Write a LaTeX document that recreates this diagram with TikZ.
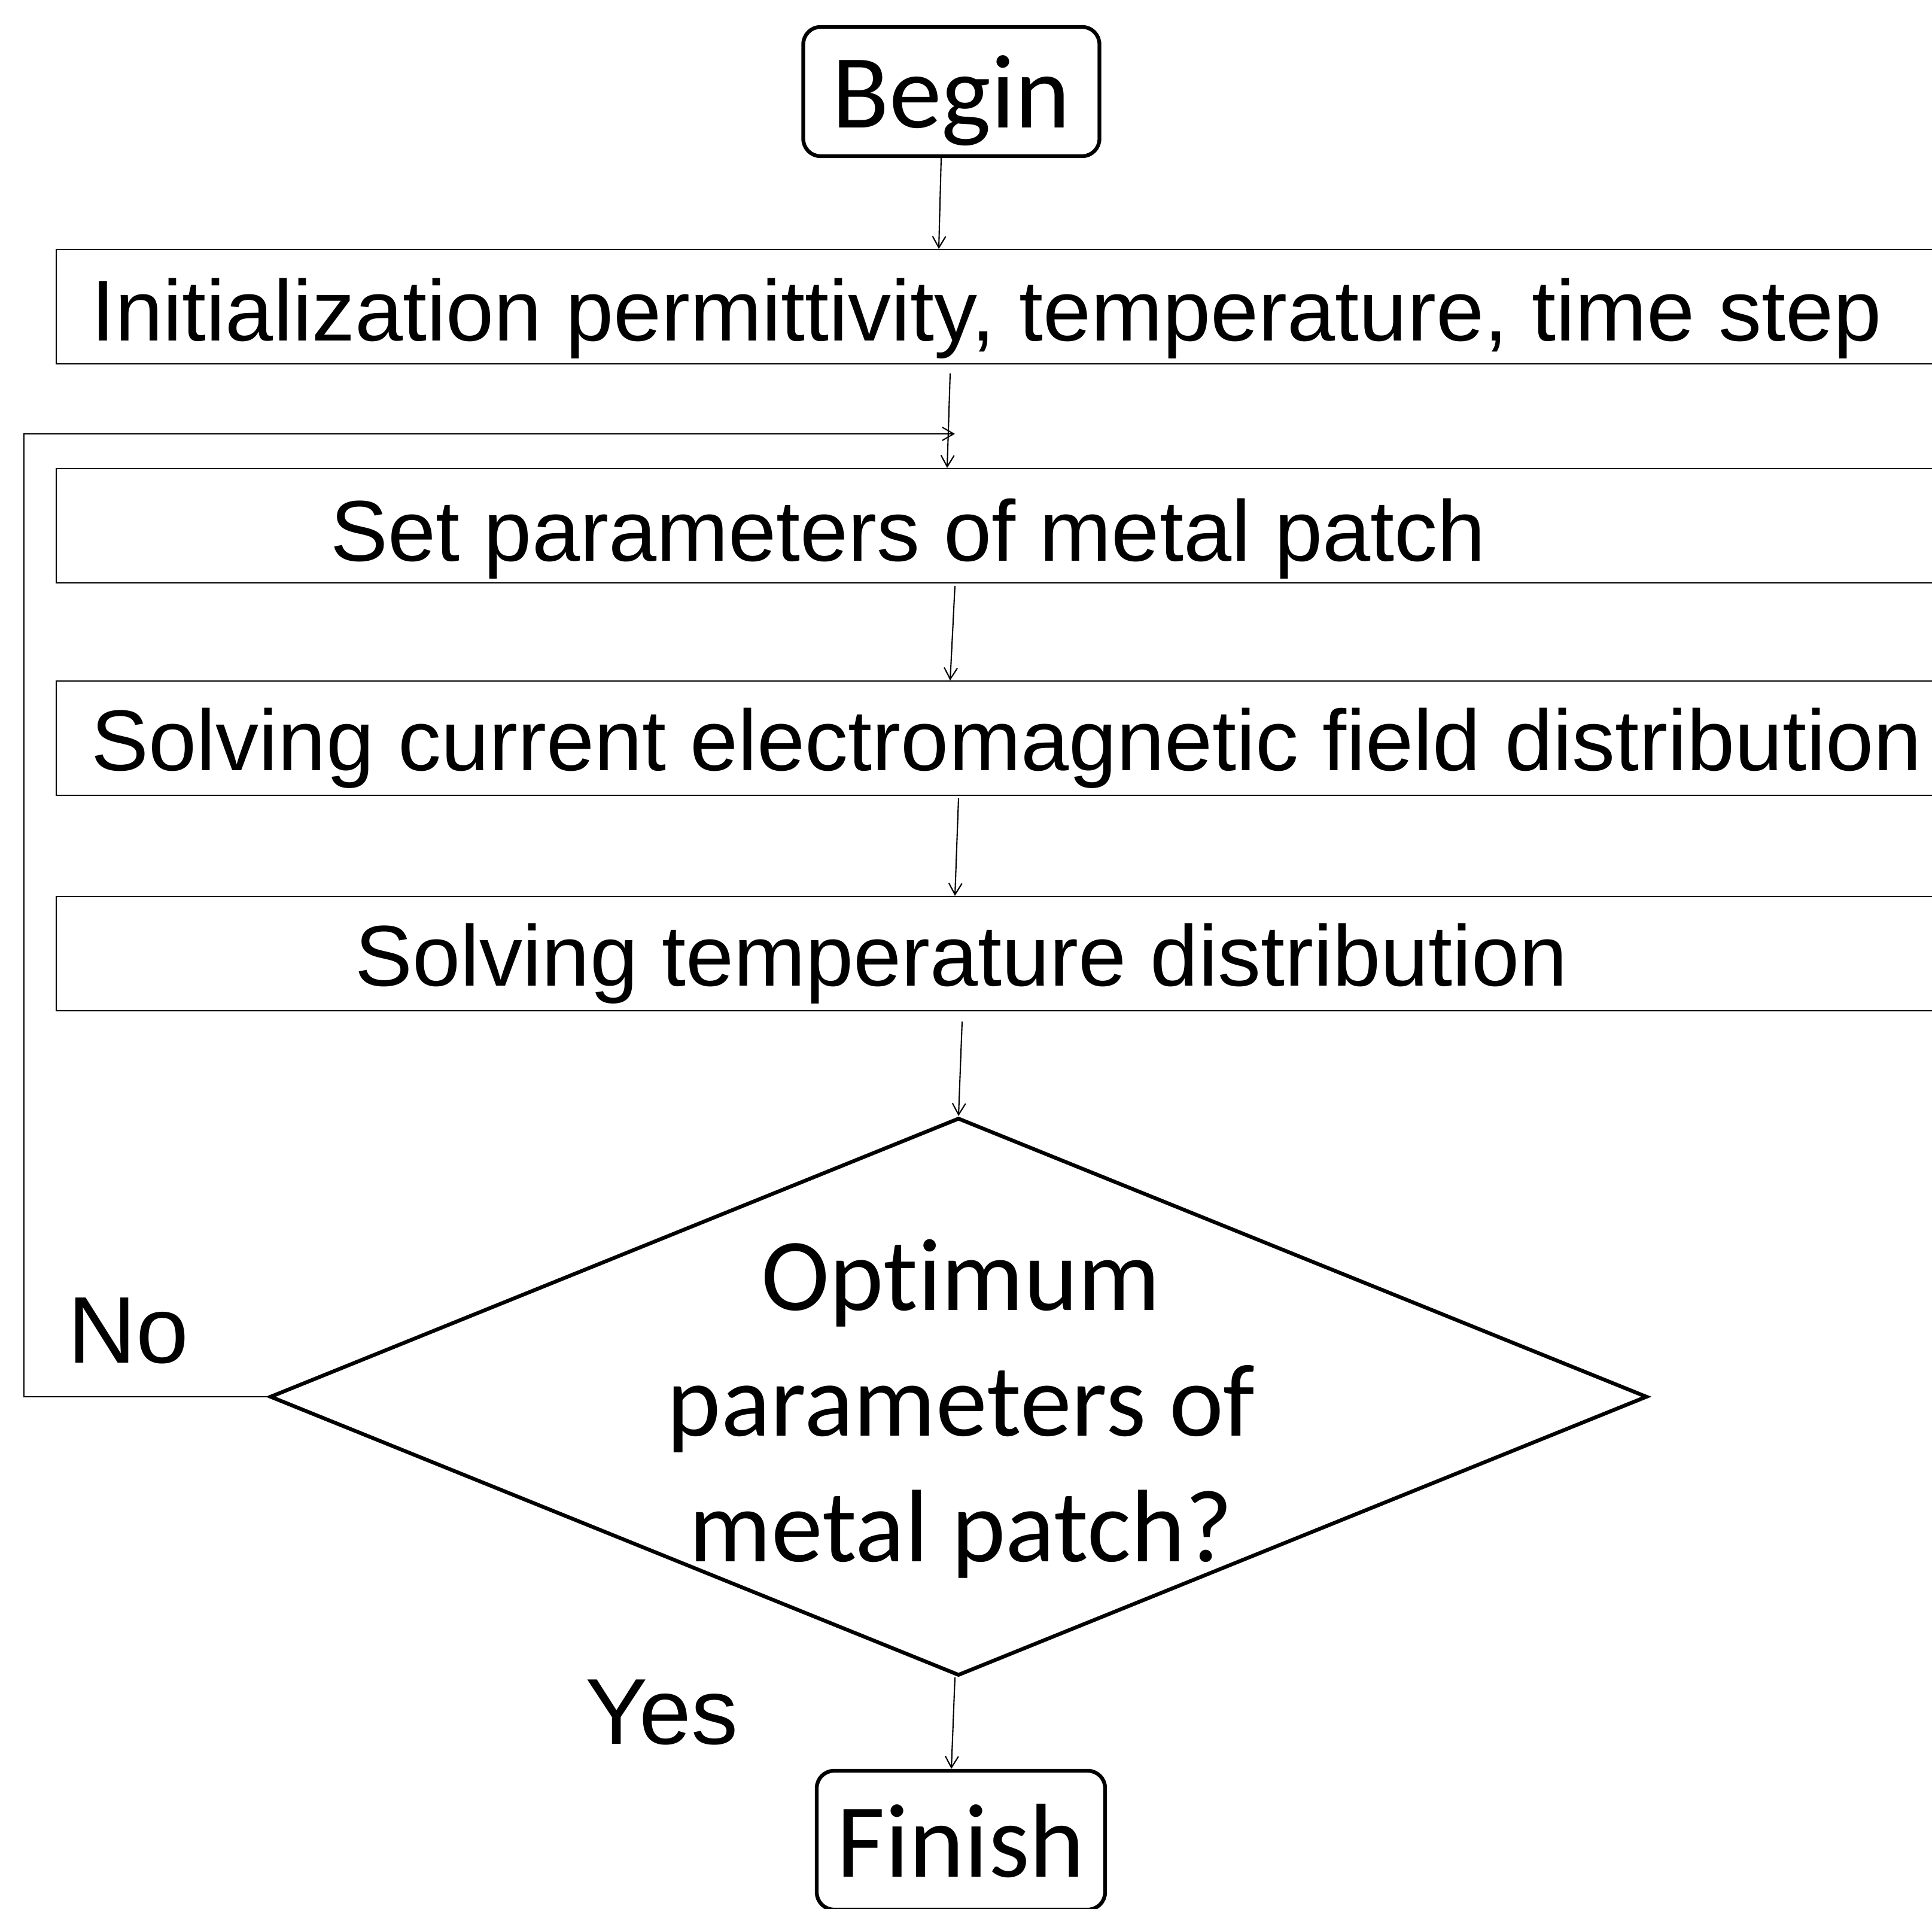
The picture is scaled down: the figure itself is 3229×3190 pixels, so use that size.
\documentclass[tikz,border=0pt]{standalone}
\usepackage{fontspec}
\newfontfamily\arialf{Liberation Sans}
\newfontfamily\calf[Ligatures={CommonOff,NoCommon}]{Carlito}
\usetikzlibrary{arrows.meta,shapes.geometric,calc}
\tikzset{
  procbox/.style={draw, line width=0.6pt, rectangle, anchor=north west, inner sep=0pt,
    minimum width=330mm, minimum height=19.1mm},
  termbox/.style={draw, line width=1.8pt, rectangle, rounded corners=2.9mm, inner sep=0pt,
    text depth=0pt, font=\calf\fontsize{50}{60}\selectfont},
  decbox/.style={draw, line width=1.8pt, diamond, inner sep=0pt, minimum width=230.2mm, minimum height=93.2mm},
  lab/.style={anchor=base west, inner sep=0pt, font=\arialf\fontsize{41}{49}\selectfont},
  arr/.style={line width=0.6pt, -{Straight Barb[length=1.9mm,width=2.2mm,line width=0.6pt]}},
}
\begin{document}
\begin{tikzpicture}[x=0.1mm, y=-0.1mm]
\useasboundingbox (0,0) rectangle (3229,3190);
\clip (0,0) rectangle (3229,3190);
\fill[white] (0,0) rectangle (3229,3190);
% terminals
\node[termbox, minimum width=49.5mm, minimum height=21.6mm] (begin) at (1590,153) {Begin};
\node[termbox, minimum width=48.2mm, minimum height=23.2mm] (finish) at (1606,3075) {Finish};
% process boxes
\node[procbox] (init) at (93,416) {};
\node[procbox] (setb) at (93,782) {};
\node[procbox] (cur) at (93,1137) {};
\node[procbox] (temp) at (93,1497) {};
\node[lab] (initT) at (152,570) {Initialization permittivity, temperature, time step};
\node[lab] (setT) at (552,937) {Set parameters of metal patch};
\node[lab] (curT) at (152,1287) {Solving current electromagnetic field distribution};
\node[lab] (tempT) at (593,1647) {Solving temperature distribution};
% decision
\node[decbox] (q) at (1602,2334) {};
\node[inner sep=0pt, align=center, font=\calf\fontsize{49}{59.8}\selectfont] (qT) at (1606,2354)
  {Opt\kern0pt imum\\parameters of\\metal patch?};
\node[lab, font=\arialf\fontsize{45}{54}\selectfont] (no) at (113,2277) {No};
\node[lab, font=\arialf\fontsize{44.5}{53}\selectfont] (yes) at (978,2914) {Yes};
% connectors
\draw[arr] ($(begin.south)+(-17,0)$) -- ($(init.north west)+(1476,0)$);
\draw[arr] ($(init.south west)+(1495,15)$) -- ($(setb.north west)+(1490,0)$);
\coordinate (join) at ($(setb.north west)+(1503,-57)$);
\draw[arr] (q.west) -- ++(-408,0) |- (join);
\draw[arr] ($(setb.south west)+(1503,4)$) -- ($(cur.north west)+(1495,0)$);
\draw[arr] ($(cur.south west)+(1509,4)$) -- ($(temp.north west)+(1503,0)$);
\draw[arr] ($(temp.south west)+(1515,17)$) -- (q.north);
\draw[arr] ($(q.south)+(-6,0)$) -- ($(finish.north)+(-16,0)$);
\end{tikzpicture}
\end{document}
